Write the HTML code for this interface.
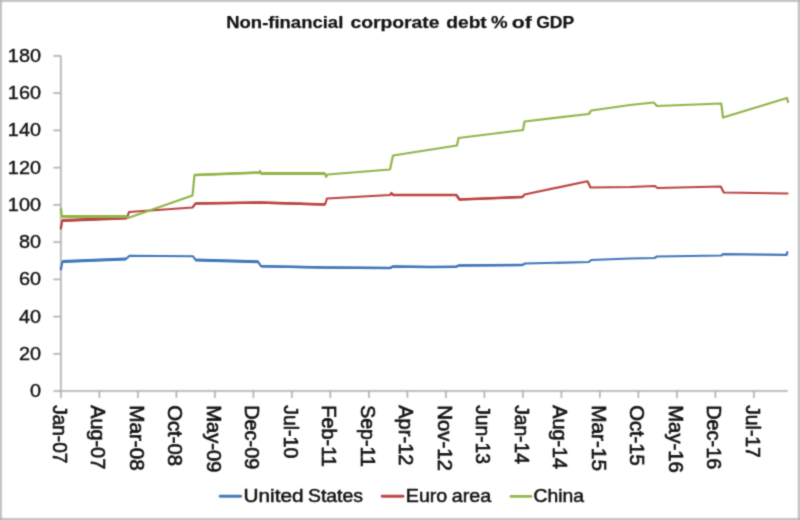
<!DOCTYPE html>
<html><head><meta charset="utf-8"><title>Non-financial corporate debt % of GDP</title>
<style>
html,body{margin:0;padding:0;background:#fff;}
body{width:800px;height:520px;overflow:hidden;position:relative;font-family:"Liberation Sans",sans-serif;}
svg{position:absolute;left:0;top:0;display:block;}
text{font-family:"Liberation Sans",sans-serif;fill:#141414;stroke:#141414;}
</style></head><body>
<svg width="800" height="520" viewBox="0 0 800 520">
<defs>
<filter id="bb" filterUnits="userSpaceOnUse" x="0" y="0" width="800" height="520" color-interpolation-filters="sRGB"><feConvolveMatrix order="3" kernelMatrix="0.04387 0.12171 0.04387 0.12171 0.33767 0.12171 0.04387 0.12171 0.04387" edgeMode="none" preserveAlpha="false"/></filter>
<filter id="sb" filterUnits="userSpaceOnUse" x="0" y="0" width="800" height="520" color-interpolation-filters="sRGB"><feConvolveMatrix order="3" kernelMatrix="0.02768 0.11101 0.02768 0.11101 0.44521 0.11101 0.02768 0.11101 0.02768" edgeMode="none" preserveAlpha="false"/></filter>
<filter id="ab" filterUnits="userSpaceOnUse" x="0" y="0" width="800" height="520" color-interpolation-filters="sRGB"><feConvolveMatrix order="3" kernelMatrix="0.05090 0.12381 0.05090 0.12381 0.30116 0.12381 0.05090 0.12381 0.05090" edgeMode="none" preserveAlpha="false"/></filter>
</defs>
<rect x="0" y="0" width="800" height="520" fill="#ffffff"/>

<g filter="url(#bb)"><path d="M-4,-4 H804 V524 H-4 Z M2.0,2.0 V517.9 H797.7 V2.0 Z" fill="#c5c5c5" fill-rule="evenodd"/><g fill="#b2b2b2"><rect x="0" y="0" width="1.8" height="1.8"/><rect x="798" y="0" width="2" height="1.8"/><rect x="0" y="518" width="1.8" height="2"/><rect x="798" y="518" width="2" height="2"/></g></g>
<g filter="url(#ab)">
<g stroke="#a8a8a8" stroke-width="1.5" fill="none">
<line x1="60.9" y1="55.9" x2="60.9" y2="397.90000000000003"/>
<line x1="53.4" y1="391.1" x2="787.7" y2="391.1"/>
<line x1="53.4" y1="353.86" x2="60.9" y2="353.86"/>
<line x1="53.4" y1="316.61" x2="60.9" y2="316.61"/>
<line x1="53.4" y1="279.37" x2="60.9" y2="279.37"/>
<line x1="53.4" y1="242.12" x2="60.9" y2="242.12"/>
<line x1="53.4" y1="204.88" x2="60.9" y2="204.88"/>
<line x1="53.4" y1="167.63" x2="60.9" y2="167.63"/>
<line x1="53.4" y1="130.39" x2="60.9" y2="130.39"/>
<line x1="53.4" y1="93.14" x2="60.9" y2="93.14"/>
<line x1="53.4" y1="55.90" x2="60.9" y2="55.90"/>
<line x1="99.40" y1="391.1" x2="99.40" y2="397.90000000000003"/>
<line x1="137.90" y1="391.1" x2="137.90" y2="397.90000000000003"/>
<line x1="176.40" y1="391.1" x2="176.40" y2="397.90000000000003"/>
<line x1="214.90" y1="391.1" x2="214.90" y2="397.90000000000003"/>
<line x1="253.40" y1="391.1" x2="253.40" y2="397.90000000000003"/>
<line x1="291.90" y1="391.1" x2="291.90" y2="397.90000000000003"/>
<line x1="330.40" y1="391.1" x2="330.40" y2="397.90000000000003"/>
<line x1="368.90" y1="391.1" x2="368.90" y2="397.90000000000003"/>
<line x1="407.40" y1="391.1" x2="407.40" y2="397.90000000000003"/>
<line x1="445.90" y1="391.1" x2="445.90" y2="397.90000000000003"/>
<line x1="484.40" y1="391.1" x2="484.40" y2="397.90000000000003"/>
<line x1="522.90" y1="391.1" x2="522.90" y2="397.90000000000003"/>
<line x1="561.40" y1="391.1" x2="561.40" y2="397.90000000000003"/>
<line x1="599.90" y1="391.1" x2="599.90" y2="397.90000000000003"/>
<line x1="638.40" y1="391.1" x2="638.40" y2="397.90000000000003"/>
<line x1="676.90" y1="391.1" x2="676.90" y2="397.90000000000003"/>
<line x1="715.40" y1="391.1" x2="715.40" y2="397.90000000000003"/>
<line x1="753.90" y1="391.1" x2="753.90" y2="397.90000000000003"/>
</g>
</g>
<g filter="url(#sb)">
<g font-size="18.5" text-anchor="end" style="stroke-width:0.4px">
<text x="41.0" y="397.20" textLength="11.05" lengthAdjust="spacingAndGlyphs">0</text>
<text x="41.0" y="359.96" textLength="22.10" lengthAdjust="spacingAndGlyphs">20</text>
<text x="41.0" y="322.71" textLength="22.10" lengthAdjust="spacingAndGlyphs">40</text>
<text x="41.0" y="285.47" textLength="22.10" lengthAdjust="spacingAndGlyphs">60</text>
<text x="41.0" y="248.22" textLength="22.10" lengthAdjust="spacingAndGlyphs">80</text>
<text x="41.0" y="210.98" textLength="33.15" lengthAdjust="spacingAndGlyphs">100</text>
<text x="41.0" y="173.73" textLength="33.15" lengthAdjust="spacingAndGlyphs">120</text>
<text x="41.0" y="136.49" textLength="33.15" lengthAdjust="spacingAndGlyphs">140</text>
<text x="41.0" y="99.24" textLength="33.15" lengthAdjust="spacingAndGlyphs">160</text>
<text x="41.0" y="62.00" textLength="33.15" lengthAdjust="spacingAndGlyphs">180</text>
</g>
<g font-size="19.4" style="stroke-width:0.65px">
<text transform="translate(52.90,405.2) rotate(90)" textLength="58.16" lengthAdjust="spacingAndGlyphs">Jan-07</text>
<text transform="translate(91.40,405.2) rotate(90)" textLength="63.97" lengthAdjust="spacingAndGlyphs">Aug-07</text>
<text transform="translate(129.90,405.2) rotate(90)" textLength="65.55" lengthAdjust="spacingAndGlyphs">Mar-08</text>
<text transform="translate(168.40,405.2) rotate(90)" textLength="60.88" lengthAdjust="spacingAndGlyphs">Oct-08</text>
<text transform="translate(206.90,405.2) rotate(90)" textLength="67.17" lengthAdjust="spacingAndGlyphs">May-09</text>
<text transform="translate(245.40,405.2) rotate(90)" textLength="64.12" lengthAdjust="spacingAndGlyphs">Dec-09</text>
<text transform="translate(283.90,405.2) rotate(90)" textLength="53.09" lengthAdjust="spacingAndGlyphs">Jul-10</text>
<text transform="translate(322.40,405.2) rotate(90)" textLength="61.72" lengthAdjust="spacingAndGlyphs">Feb-11</text>
<text transform="translate(360.90,405.2) rotate(90)" textLength="61.59" lengthAdjust="spacingAndGlyphs">Sep-11</text>
<text transform="translate(399.40,405.2) rotate(90)" textLength="60.27" lengthAdjust="spacingAndGlyphs">Apr-12</text>
<text transform="translate(437.90,405.2) rotate(90)" textLength="65.69" lengthAdjust="spacingAndGlyphs">Nov-12</text>
<text transform="translate(476.40,405.2) rotate(90)" textLength="58.69" lengthAdjust="spacingAndGlyphs">Jun-13</text>
<text transform="translate(514.90,405.2) rotate(90)" textLength="58.60" lengthAdjust="spacingAndGlyphs">Jan-14</text>
<text transform="translate(553.40,405.2) rotate(90)" textLength="63.88" lengthAdjust="spacingAndGlyphs">Aug-14</text>
<text transform="translate(591.90,405.2) rotate(90)" textLength="65.75" lengthAdjust="spacingAndGlyphs">Mar-15</text>
<text transform="translate(630.40,405.2) rotate(90)" textLength="60.49" lengthAdjust="spacingAndGlyphs">Oct-15</text>
<text transform="translate(668.90,405.2) rotate(90)" textLength="67.71" lengthAdjust="spacingAndGlyphs">May-16</text>
<text transform="translate(707.40,405.2) rotate(90)" textLength="64.12" lengthAdjust="spacingAndGlyphs">Dec-16</text>
<text transform="translate(745.90,405.2) rotate(90)" textLength="52.66" lengthAdjust="spacingAndGlyphs">Jul-17</text>
</g>
<g fill="none" stroke-linejoin="round" stroke-linecap="round">
<polyline points="60.90,269.20 62.40,261.60 126.00,259.00 129.50,255.75 193.00,256.25 195.50,260.00 258.00,261.70 261.00,266.25 325.00,267.50 390.00,268.00 393.00,266.50 430.00,267.00 456.00,266.75 458.75,265.50 522.50,265.00 525.00,263.50 588.75,262.00 591.25,260.00 630.00,258.50 654.50,258.00 657.00,256.50 721.25,255.50 723.20,254.20 786.70,254.80 787.30,252.20" stroke="#4177b8" stroke-width="2.2"/>
<polyline points="62.40,261.60 126.00,259.00" stroke="#4177b8" stroke-width="3.0" stroke-linecap="butt"/>
<polyline points="195.50,260.00 258.00,261.70" stroke="#4177b8" stroke-width="2.9" stroke-linecap="butt"/>
<polyline points="261.00,266.25 325.00,267.50 390.00,268.00 393.00,266.50 430.00,267.00 456.00,266.75 458.75,265.50 522.50,265.00" stroke="#4177b8" stroke-width="2.45" stroke-linecap="butt"/>
<polyline points="60.90,228.30 62.20,220.60 127.00,218.00 129.00,212.00 192.50,207.50 195.50,203.50 260.00,202.60 325.00,204.50 327.00,198.50 390.00,195.00 391.50,193.00 393.00,195.00 440.00,195.00 456.25,195.00 459.50,199.50 522.50,197.00 524.50,194.50 587.50,181.25 590.50,187.50 630.00,187.00 655.00,186.00 657.50,188.00 720.75,186.50 723.75,192.50 787.50,193.50" stroke="#ba4441" stroke-width="2.2"/>
<polyline points="62.20,220.60 127.00,218.00" stroke="#ba4441" stroke-width="3.0" stroke-linecap="butt"/>
<polyline points="195.50,203.50 260.00,202.60 325.00,204.50" stroke="#ba4441" stroke-width="2.5" stroke-linecap="butt"/>
<polyline points="393.00,195.00 440.00,195.00 456.25,195.00 459.50,199.50 522.50,197.00" stroke="#ba4441" stroke-width="2.55" stroke-linecap="butt"/>
<polyline points="60.90,208.90 61.90,216.60 127.00,216.50 128.00,218.00 192.50,195.50 194.50,175.00 259.50,172.60 260.00,171.00 261.00,173.50 325.00,173.50 326.00,177.00 327.50,174.50 390.00,169.50 393.00,155.50 457.00,145.50 458.50,138.00 523.00,130.00 524.50,121.50 588.75,114.00 591.25,110.50 630.00,105.00 653.75,102.50 657.00,106.00 721.25,103.50 723.00,117.50 787.00,98.00 788.00,102.00" stroke="#91b549" stroke-width="2.2"/>
<polyline points="61.90,216.60 127.00,216.50" stroke="#91b549" stroke-width="3.0" stroke-linecap="butt"/>
<polyline points="194.50,175.00 259.50,172.60" stroke="#91b549" stroke-width="2.5" stroke-linecap="butt"/>
<polyline points="261.00,173.50 325.00,173.50" stroke="#91b549" stroke-width="2.8" stroke-linecap="butt"/>
</g>
<g font-size="17" font-weight="bold" style="stroke-width:0.25px">
<text x="226.20" y="28.4" textLength="117.10" lengthAdjust="spacingAndGlyphs">Non-financial</text>
<text x="350.45" y="28.4" textLength="89.10" lengthAdjust="spacingAndGlyphs">corporate</text>
<text x="446.20" y="28.4" textLength="40.60" lengthAdjust="spacingAndGlyphs">debt</text>
<text x="490.90" y="28.4" textLength="16.60" lengthAdjust="spacingAndGlyphs">%</text>
<text x="511.70" y="28.4" textLength="20.10" lengthAdjust="spacingAndGlyphs">of</text>
<text x="536.20" y="28.4" textLength="38.10" lengthAdjust="spacingAndGlyphs">GDP</text>
</g>
<g stroke-width="2.9" stroke-linecap="round">
<line x1="220.2" y1="496.3" x2="240.6" y2="496.3" stroke="#477cbb"/>
<line x1="382.2" y1="496.3" x2="403.0" y2="496.3" stroke="#bd4845"/>
<line x1="511" y1="496.4" x2="531.0" y2="496.4" stroke="#95b850"/>
</g>
<g font-size="18" style="stroke-width:0.5px">
<text x="243.50" y="502.1" textLength="60.00" lengthAdjust="spacingAndGlyphs">United</text>
<text x="308.00" y="502.1" textLength="55.00" lengthAdjust="spacingAndGlyphs">States</text>
<text x="405.80" y="502.1" textLength="41.50" lengthAdjust="spacingAndGlyphs">Euro</text>
<text x="451.80" y="502.1" textLength="39.40" lengthAdjust="spacingAndGlyphs">area</text>
<text x="533.50" y="502.1" textLength="50.50" lengthAdjust="spacingAndGlyphs">China</text>
</g>
</g>
</svg></body></html>
